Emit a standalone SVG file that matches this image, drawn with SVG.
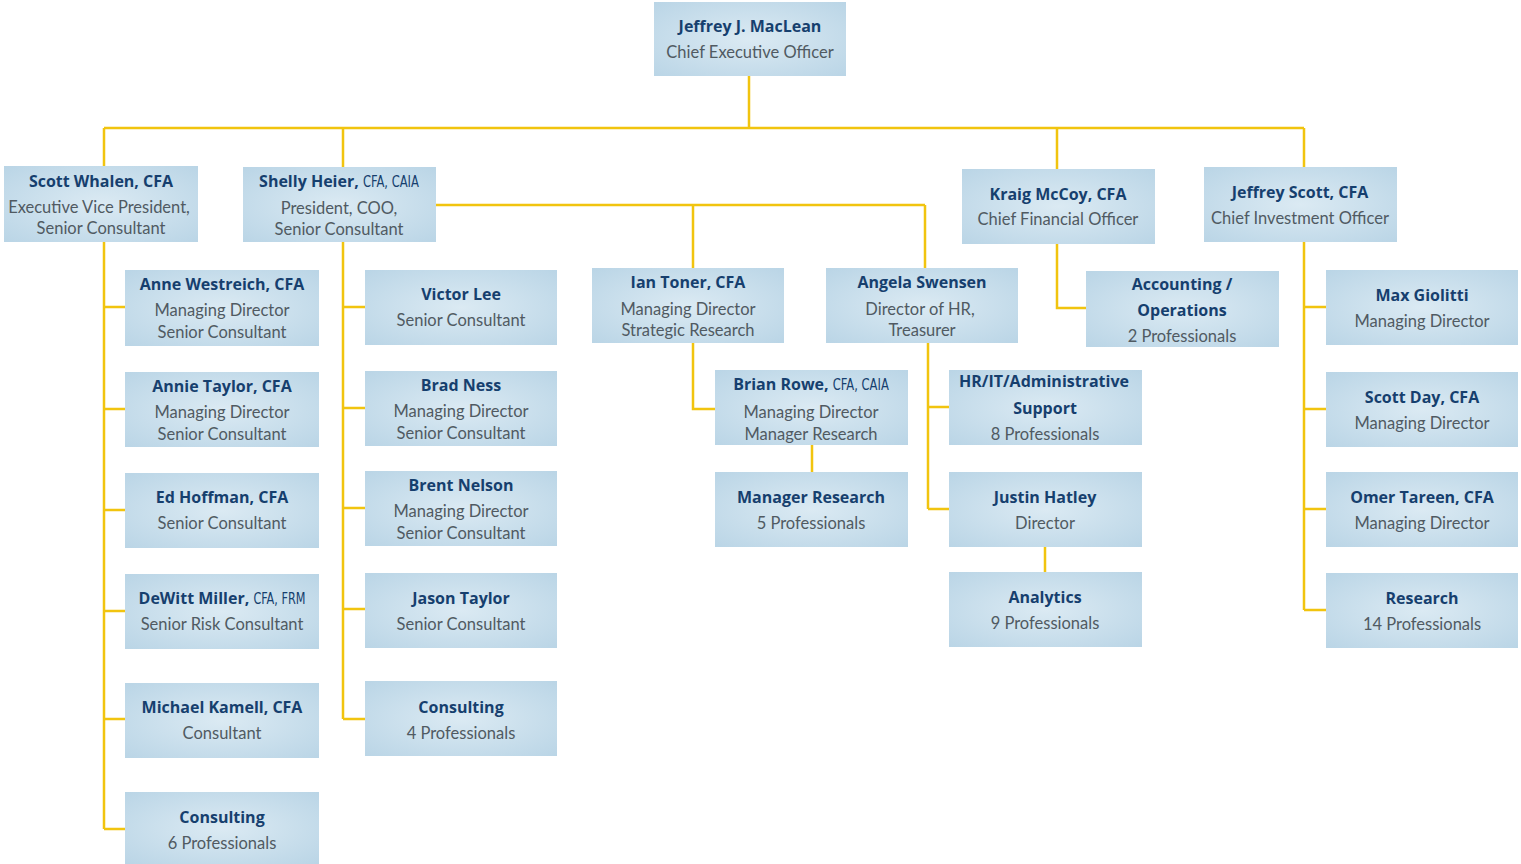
<svg xmlns="http://www.w3.org/2000/svg" width="1521" height="864" viewBox="0 0 1521 864">
<defs>
<radialGradient id="bg" cx="0.5" cy="0.5" r="0.7">
<stop offset="0" stop-color="#dbeaf3"/>
<stop offset="1" stop-color="#bad5e6"/>
</radialGradient>
</defs>
<style>
.box{fill:url(#bg);}
.n{font-family:"Open Sans",Lato,sans-serif;font-weight:bold;font-size:16px;fill:#163f6e;text-anchor:middle;}
.t{font-family:Lato,"Open Sans",sans-serif;font-size:16.5px;fill:#505a62;text-anchor:middle;}
.s{font-family:"DejaVu Sans Condensed","DejaVu Sans",sans-serif;font-weight:normal;font-size:15px;fill:#163f6e;}
.c{fill:none;stroke:#f1c40f;stroke-width:2.5;}
</style>
<rect width="1521" height="864" fill="#ffffff"/>
<g id="connectors" class="c">
<path d="M749 76V128M104 128H1304M104 128V166M343 128V167M1057 128V169M1304 128V167"/>
<path d="M104 242V829M104 307H125M104 409H125M104 510H125M104 611H125M104 719H125M104 829H125"/>
<path d="M343 242V719M343 307H365M343 408H365M343 508H365M343 609H365M343 719H365"/>
<path d="M436 205H925M693 205V268M925 205V268"/>
<path d="M693 343V409H715M812 445V472"/>
<path d="M928 343V509M928 407H949M928 509H949M1045 547V572"/>
<path d="M1057 244V308H1086"/>
<path d="M1304 242V610M1304 307H1326M1304 409H1326M1304 509H1326M1304 610H1326"/>
</g>
<g id="ceo"><rect class="box" x="654" y="2" width="192" height="74"/><text class="n" x="750" y="32">Jeffrey J.  MacLean</text><text class="t" x="750" y="58">Chief Executive Officer</text></g>
<g id="whalen"><rect class="box" x="4" y="166" width="194" height="76"/><text class="n" x="101" y="187">Scott Whalen, CFA</text><text class="t" x="99" y="213">Executive Vice President,</text><text class="t" x="101" y="234">Senior Consultant</text></g>
<g id="heier"><rect class="box" x="243" y="167" width="193" height="75"/><text class="n" x="339" y="187">Shelly Heier, <tspan class="s" textLength="56" lengthAdjust="spacingAndGlyphs">CFA, CAIA</tspan></text><text class="t" x="339" y="214">President, COO,</text><text class="t" x="339" y="235">Senior Consultant</text></g>
<g id="mccoy"><rect class="box" x="962" y="169" width="193" height="75"/><text class="n" x="1058" y="200">Kraig McCoy, CFA</text><text class="t" x="1058" y="225">Chief Financial Officer</text></g>
<g id="jscott"><rect class="box" x="1204" y="167" width="193" height="75"/><text class="n" x="1300" y="198">Jeffrey Scott, CFA</text><text class="t" x="1300" y="224">Chief Investment Officer</text></g>

<g id="westreich"><rect class="box" x="125" y="270" width="194" height="76"/><text class="n" x="222" y="290">Anne Westreich, CFA</text><text class="t" x="222" y="316">Managing Director</text><text class="t" x="222" y="338">Senior Consultant</text></g>
<g id="ataylor"><rect class="box" x="125" y="372" width="194" height="75"/><text class="n" x="222" y="392">Annie Taylor, CFA</text><text class="t" x="222" y="418">Managing Director</text><text class="t" x="222" y="440">Senior Consultant</text></g>
<g id="hoffman"><rect class="box" x="125" y="473" width="194" height="75"/><text class="n" x="222" y="503">Ed Hoffman, CFA</text><text class="t" x="222" y="529">Senior Consultant</text></g>
<g id="miller"><rect class="box" x="125" y="574" width="194" height="75"/><text class="n" x="222" y="604">DeWitt Miller, <tspan class="s" textLength="52" lengthAdjust="spacingAndGlyphs">CFA, FRM</tspan></text><text class="t" x="222" y="630">Senior Risk Consultant</text></g>
<g id="kamell"><rect class="box" x="125" y="683" width="194" height="75"/><text class="n" x="222" y="713">Michael Kamell, CFA</text><text class="t" x="222" y="739">Consultant</text></g>
<g id="consult6"><rect class="box" x="125" y="792" width="194" height="72"/><text class="n" x="222" y="823">Consulting</text><text class="t" x="222" y="849">6 Professionals</text></g>

<g id="lee"><rect class="box" x="365" y="270" width="192" height="75"/><text class="n" x="461" y="300">Victor Lee</text><text class="t" x="461" y="326">Senior Consultant</text></g>
<g id="ness"><rect class="box" x="365" y="371" width="192" height="75"/><text class="n" x="461" y="391">Brad Ness</text><text class="t" x="461" y="417">Managing Director</text><text class="t" x="461" y="439">Senior Consultant</text></g>
<g id="nelson"><rect class="box" x="365" y="471" width="192" height="75"/><text class="n" x="461" y="491">Brent Nelson</text><text class="t" x="461" y="517">Managing Director</text><text class="t" x="461" y="539">Senior Consultant</text></g>
<g id="jtaylor"><rect class="box" x="365" y="573" width="192" height="75"/><text class="n" x="461" y="604">Jason Taylor</text><text class="t" x="461" y="630">Senior Consultant</text></g>
<g id="consult4"><rect class="box" x="365" y="681" width="192" height="75"/><text class="n" x="461" y="713">Consulting</text><text class="t" x="461" y="739">4 Professionals</text></g>

<g id="toner"><rect class="box" x="592" y="268" width="192" height="75"/><text class="n" x="688" y="288">Ian Toner, CFA</text><text class="t" x="688" y="315">Managing Director</text><text class="t" x="688" y="336">Strategic Research</text></g>
<g id="swensen"><rect class="box" x="826" y="268" width="192" height="75"/><text class="n" x="922" y="288">Angela Swensen</text><text class="t" x="920" y="315">Director of HR,</text><text class="t" x="922" y="336">Treasurer</text></g>
<g id="rowe"><rect class="box" x="715" y="370" width="193" height="75"/><text class="n" x="811" y="390">Brian Rowe, <tspan class="s" textLength="56" lengthAdjust="spacingAndGlyphs">CFA, CAIA</tspan></text><text class="t" x="811" y="418">Managing Director</text><text class="t" x="811" y="440">Manager Research</text></g>
<g id="mgrresearch"><rect class="box" x="715" y="472" width="193" height="75"/><text class="n" x="811" y="503">Manager Research</text><text class="t" x="811" y="529">5 Professionals</text></g>
<g id="hrit"><rect class="box" x="949" y="370" width="193" height="75"/><text class="n" x="1044" y="387">HR/IT/Administrative</text><text class="n" x="1045" y="414">Support</text><text class="t" x="1045" y="440">8 Professionals</text></g>
<g id="hatley"><rect class="box" x="949" y="472" width="193" height="75"/><text class="n" x="1045" y="503">Justin Hatley</text><text class="t" x="1045" y="529">Director</text></g>
<g id="analytics"><rect class="box" x="949" y="572" width="193" height="75"/><text class="n" x="1045" y="603">Analytics</text><text class="t" x="1045" y="629">9 Professionals</text></g>
<g id="accounting"><rect class="box" x="1086" y="271" width="193" height="76"/><text class="n" x="1182" y="290">Accounting /</text><text class="n" x="1182" y="316">Operations</text><text class="t" x="1182" y="342">2 Professionals</text></g>

<g id="giolitti"><rect class="box" x="1326" y="270" width="192" height="75"/><text class="n" x="1422" y="301">Max Giolitti</text><text class="t" x="1422" y="327">Managing Director</text></g>
<g id="day"><rect class="box" x="1326" y="372" width="192" height="75"/><text class="n" x="1422" y="403">Scott Day, CFA</text><text class="t" x="1422" y="429">Managing Director</text></g>
<g id="tareen"><rect class="box" x="1326" y="472" width="192" height="75"/><text class="n" x="1422" y="503">Omer Tareen, CFA</text><text class="t" x="1422" y="529">Managing Director</text></g>
<g id="research"><rect class="box" x="1326" y="573" width="192" height="75"/><text class="n" x="1422" y="604">Research</text><text class="t" x="1422" y="630">14 Professionals</text></g>
</svg>
